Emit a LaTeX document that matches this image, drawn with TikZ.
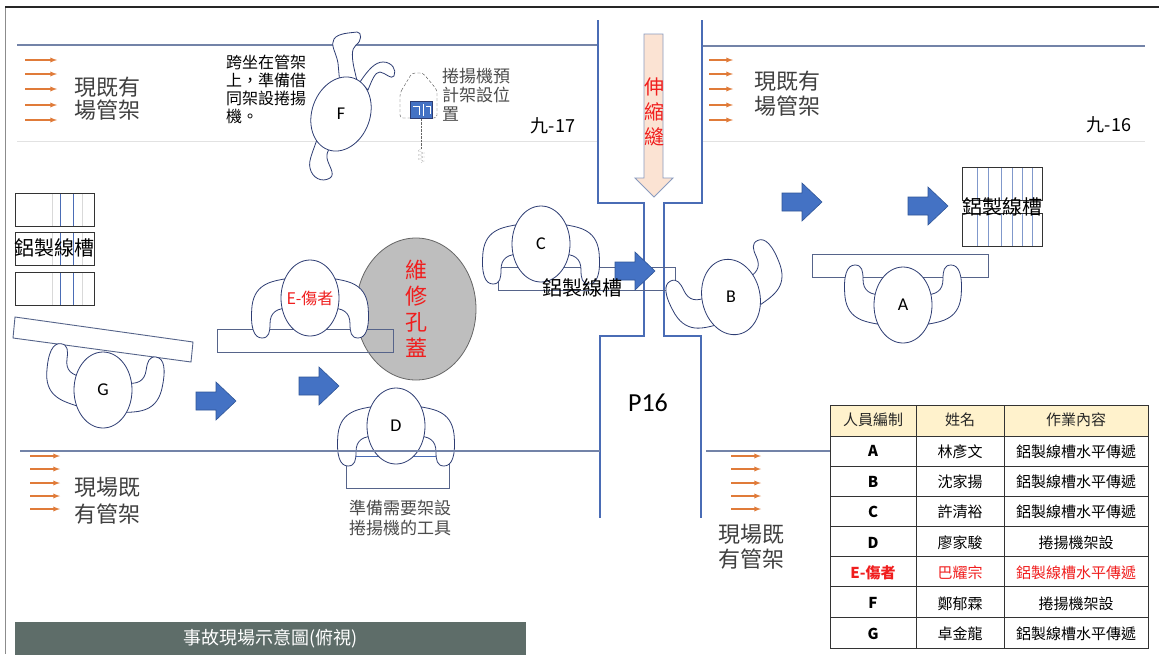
\documentclass[tikz,border=0pt]{standalone}
\usepackage{fontspec}
\setmainfont{Carlito}
\newfontfamily\cjk{Noto Sans CJK TC}
\usepackage{tikz}
\usetikzlibrary{arrows,shapes.geometric}

\definecolor{pipeline}{HTML}{7383A8}
\definecolor{faintline}{HTML}{E2E2E2}
\definecolor{colblue}{HTML}{4A6CB5}
\definecolor{navy}{HTML}{2E3D73}
\definecolor{boardline}{HTML}{56648A}
\definecolor{rackorange}{HTML}{E07B39}
\definecolor{pushblue}{HTML}{4472C4}
\definecolor{pushedge}{HTML}{2F5597}
\definecolor{peach}{HTML}{FBE3D3}
\definecolor{jointedge}{HTML}{8A9BBE}
\definecolor{coverfill}{HTML}{BEBEBE}
\definecolor{hurt}{HTML}{F01E1E}
\definecolor{headfill}{HTML}{FFF2CC}
\definecolor{bargreen}{HTML}{5E6D69}

\tikzset{%
	person/.style  = {draw=navy, fill=white, ellipse, line width=0.8pt, minimum width=58, minimum height=76, inner sep=0pt, font=\fontsize{18}{18}\selectfont},
	tag/.style     = {inner sep=0pt, font=\fontsize{18}{18}\selectfont},
	arm/.style     = {draw=navy, fill=white, line width=0.8pt},
	board/.style   = {draw=boardline, line width=0.9pt},
	tray/.style    = {draw=black!80, line width=0.9pt},
	rack/.style    = {draw=rackorange, line width=1.3pt, -latex},
	pipe/.style    = {draw=pipeline, line width=1.1pt},
	column/.style  = {draw=colblue, line width=1.4pt},
	pushed/.style  = {draw=pushedge, fill=pushblue, line width=0.6pt},
	grid/.style    = {draw=black!80, line width=1pt},
	zh/.style 2 args = {font=\cjk\fontsize{#1}{#2}\selectfont, inner sep=0pt},
	cell/.style    = {zh={15}{15}, text=black!85},
	arms/.pic      = {%
		\draw[arm] (-20,-20) .. controls (-36,-17) and (-55,-16) .. (-58,8) .. controls (-60,30) and (-56,40) .. (-48,40) .. controls (-41,40) and (-40,34) .. (-40,26) .. controls (-40,14) and (-33,10) .. (-20,10) -- cycle;
		\draw[arm, xscale=-1] (-20,-20) .. controls (-36,-17) and (-55,-16) .. (-58,8) .. controls (-60,30) and (-56,40) .. (-48,40) .. controls (-41,40) and (-40,34) .. (-40,26) .. controls (-40,14) and (-33,10) .. (-20,10) -- cycle;
	},
	push/.pic      = {\draw[pushed] (0,-9) -- (20,-9) -- (20,-19) -- (40,0) -- (20,19) -- (20,9) -- (0,9) -- cycle;},
}

\begin{document}
\begin{tikzpicture}[x=1pt, y=-1pt]
	\useasboundingbox (0,0) rectangle (1159,654);
	\fill[white] (0,0) rectangle (1159,654);
	\draw[black!45, line width=0.8pt] (5,7) -- (5,654);
	\draw[black!85, line width=1.8pt] (5,7) -- (1159,7);
	
	% pipe racks
	\draw[pipe] (17,45) -- (598,45);
	\draw[pipe] (703,46) -- (1145,46);
	\draw[faintline, line width=1pt] (17,141) -- (598,141);
	\draw[faintline, line width=1pt] (703,141) -- (1145,141);
	
	% column with expansion joint
	\draw[column] (598,20) -- (598,203) -- (644,203) -- (644,336) -- (600,336) -- (600,518);
	\draw[column] (702,20) -- (702,203) -- (664,203) -- (664,336) -- (701,336) -- (701,518);
	\draw[draw=jointedge, fill=peach, line width=0.9pt] (644,34) -- (663,34) -- (663,178) -- (673,178) -- (654,197) -- (635,178) -- (644,178) -- cycle;
	\node[zh={20}{25}, text=hurt, align=center] (joint) at (654,112) {伸\\縮\\縫};
	
	% cable trays
	\foreach \y in {193,232,272} {
		\draw[black!15] (52,\y) -- ++(0,33) (82,\y) -- ++(0,33);
		\draw[colblue, line width=0.6pt] (60,\y) -- ++(0,33) (73,\y) -- ++(0,33);
		\draw[tray] (15,\y) rectangle ++(79,33);
	}
	\foreach \y in {167,213} {
		\foreach \x in {977,988,1001,1012,1022,1032}
			\draw[colblue!70, line width=0.6pt] (\x,\y) -- ++(0,33);
		\draw[tray] (962,\y) rectangle ++(80,33);
	}
	\node[zh={20}{20}] (tray-left) at (54,248) {鋁製線槽};
	\node[zh={20}{20}] (tray-right) at (1002,207) {鋁製線槽};
	
	% manhole cover and boards
	\node[ellipse, draw=black!60, fill=coverfill, line width=0.8pt, minimum width=120, minimum height=142] (cover) at (416,309) {};
	\draw[board] (15,317) -- (193,342) -- (191,362) -- (13,338) -- cycle;
	\draw[board] (217,329) rectangle (393,352);
	\draw[board] (346,456) rectangle (449,488);
	\draw[colblue] (346,456) -- (449,456);
	\draw[board] (498,267) rectangle (675,290);
	\draw[board] (812,254) rectangle (988,277);
	\node[zh={22}{26}, text=hurt, align=center] (cover-text) at (cover) {維\\修\\孔\\蓋};
	
	% workers
	\pic[rotate=-8, yscale=-1] at (103,390) {arms};
	\node[person] (G) at (103,390) {G};
	\pic at (310,298) {arms};
	\node[person] (E) at (310,298) {};
	\node[zh={16}{16}, text=hurt] (E-tag) at (E) {E-傷者};
	\pic at (396,426) {arms};
	\node[person] (D) at (396,426) {D};
	\pic at (541,244) {arms};
	\node[person] (C) at (541,244) {C};
	\pic[rotate=25, yscale=-1] at (731,297) {arms};
	\node[person, rotate=12] (B) at (731,297) {};
	\node[tag] (B-tag) at (B) {B};
	\pic[yscale=-1] at (903,305) {arms};
	\node[person] (A) at (903,305) {A};
	
	\draw[arm] (340,85) -- (338,63) .. controls (336,52) and (330,45) .. (334,39) .. controls (338,33) and (350,33) .. (357,32) .. controls (362,32) and (362,41) .. (356,45) .. controls (351,49) and (352,58) .. (354,68) -- (358,85) -- cycle;
	\draw[arm] (360,82) .. controls (368,70) and (375,62) .. (383,62) .. controls (392,62) and (397,70) .. (394,76) .. controls (391,80) and (386,73) .. (380,72) .. controls (375,72) and (372,80) .. (368,90) -- cycle;
	\draw[arm] (318,136) .. controls (314,150) and (308,160) .. (310,168) .. controls (312,178) and (322,183) .. (330,178) .. controls (336,174) and (328,165) .. (327,158) .. controls (326,152) and (330,148) .. (334,138) -- cycle;
	\node[person, rotate=-20] (F) at (341,114) {};
	\node[tag] (F-tag) at (F) {F};
	
	\draw[pipe] (20,451) -- (600,451);
	\draw[pipe] (706,451) -- (830,451);
	
	% hoist position
	\draw[densely dashed, black!70, rounded corners=3pt] (400,93) -- (412,73) -- (423,73) -- (437,90) -- (437,118) -- (400,118) -- cycle;
	\node[fill=pushblue, draw=navy, minimum width=22, minimum height=17, inner sep=0pt] (winch) at (421,110) {};
	\draw[white, line width=0.7pt] (413,106) -- (419,106) -- (419,115) (423,104) -- (423,116) (426,106) -- (430,106) -- (430,114);
	\coordinate (hook) at (421,149);
	\draw[densely dotted, black!60] (winch.south) -- (hook);
	\draw[densely dotted, black!60] (hook) -- ++(-3,2) -- ++(6,2) -- ++(-6,2) -- ++(6,2) -- ++(-6,2) -- ++(6,2) -- ++(-3,2);
	
	% moving direction
	\foreach \x/\y in {196/401, 299/386, 615/271, 782/202, 908/206}
		\pic at (\x,\y) {push};
	
	% existing racks
	\foreach \y in {60,74,89,105,120} {
		\draw[rack] (25,\y) -- (57,\y);
		\draw[rack] (709,\y) -- (733,\y);
	}
	\foreach \y in {456,469,483,496,509} {
		\draw[rack] (30,\y) -- (60,\y);
		\draw[rack] (731,\y) -- (761,\y);
	}
	\node[zh={22}{23}, text=black!75, align=left] (rack-ul) at (107,99) {現既有\\場管架};
	\node[zh={22}{25}, text=black!75, align=left] (rack-ur) at (787,94) {現既有\\場管架};
	\node[zh={22}{27}, text=black!75, align=left] (rack-ll) at (107,501) {現場既\\有管架};
	\node[zh={22}{25}, text=black!75, align=left] (rack-lr) at (751,547) {現場既\\有管架};
	
	\node[zh={18}{18}] (bay-17) at (553,126) {九-17};
	\node[zh={18}{18}] (bay-16) at (1109,125) {九-16};
	\node[zh={16}{18}, align=left, anchor=north west] (note-F) at (226,55) {跨坐在管架\\上，準備借\\同架設捲揚\\機。};
	\node[zh={17}{19}, text=black!70, align=left, anchor=north west] (note-hoist) at (442,68) {捲揚機預\\計架設位\\置};
	\node[zh={17}{20}, text=black!70, align=center] (note-tool) at (400,518) {準備需要架設\\捲揚機的工具};
	\node[tag, font=\fontsize{26}{26}\selectfont] (P16) at (648,403) {P16};
	\node[zh={20}{20}] (tray-mid) at (582,288) {鋁製線槽};
	
	% crew list
	\fill[headfill] (830,405) rectangle (1148,436);
	\draw[grid] (830,405) rectangle (1148,648);
	\foreach \y in {436,466,496,526,556,586,617}
		\draw[grid] (830,\y) -- (1148,\y);
	\foreach \x in {916,1004}
		\draw[grid] (\x,405) -- (\x,648);
	\node[cell] (hd-code) at (873,420) {人員編制};
	\node[cell] (hd-name) at (960,420) {姓名};
	\node[cell] (hd-job) at (1076,420) {作業內容};
	\foreach \code/\name/\job/\ink [count=\i] in {A/林彥文/鋁製線槽水平傳遞/black, B/沈家揚/鋁製線槽水平傳遞/black, C/許清裕/鋁製線槽水平傳遞/black, D/廖家駿/捲揚機架設/black, E-傷者/巴耀宗/鋁製線槽水平傳遞/hurt, F/鄭郁霖/捲揚機架設/black, G/卓金龍/鋁製線槽水平傳遞/black} {
		\node[cell, text=\ink, font=\cjk\bfseries\fontsize{15}{15}\selectfont] (code-\i) at (873,421+30.4*\i) {\code};
		\node[cell, text=\ink] (name-\i) at (960,421+30.4*\i) {\name};
		\node[cell, text=\ink] (job-\i) at (1076,421+30.4*\i) {\job};
	}
	
	\node[fill=bargreen, text=white, minimum width=511, minimum height=33, anchor=north west, zh={18}{18}] (title) at (15,622) {事故現場示意圖(俯視)};
\end{tikzpicture}
\end{document}
